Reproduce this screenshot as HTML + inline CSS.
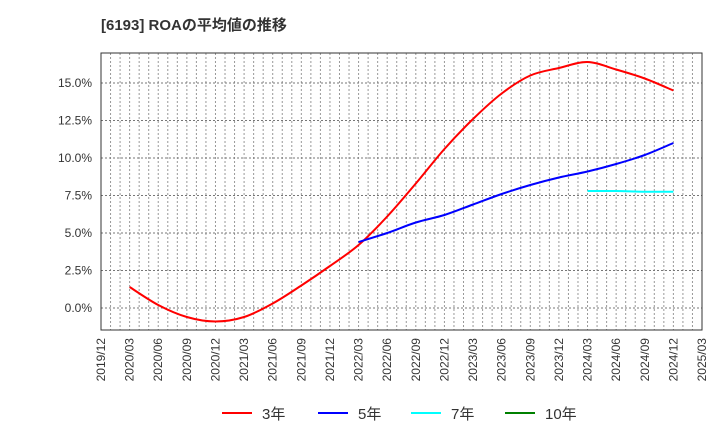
<!DOCTYPE html>
<html><head><meta charset="utf-8"><style>
body{margin:0;background:#fff;font-family:"Liberation Sans","Noto Sans CJK JP",sans-serif;}
svg text{font-family:"Liberation Sans","Noto Sans CJK JP",sans-serif;}
</style></head><body>
<svg id="c" width="720" height="440" xmlns="http://www.w3.org/2000/svg">
<text x="101" y="30" font-size="15" font-weight="bold" fill="#333">[6193]  ROAの平均値の推移</text>
<g id="grid"></g><g id="axes"></g><g id="series"></g>
<rect x="101" y="53" width="601" height="277" fill="none" stroke="#333" stroke-width="1"/>
<g id="legend"></g>
</svg>
<script>
const xLabels=["2019/12","2020/03","2020/06","2020/09","2020/12","2021/03","2021/06","2021/09","2021/12","2022/03","2022/06","2022/09","2022/12","2023/03","2023/06","2023/09","2023/12","2024/03","2024/06","2024/09","2024/12","2025/03"];
const yTicks=[0,2.5,5,7.5,10,12.5,15];
const yTickLabels=["0.0%","2.5%","5.0%","7.5%","10.0%","12.5%","15.0%"];
const dates3=["2020/03","2020/06","2020/09","2020/12","2021/03","2021/06","2021/09","2021/12","2022/03","2022/06","2022/09","2022/12","2023/03","2023/06","2023/09","2023/12","2024/03","2024/06","2024/09","2024/12"];
const roa3=[1.4,0.2,-0.6,-0.9,-0.6,0.3,1.5,2.8,4.2,6.1,8.3,10.6,12.6,14.3,15.5,16.0,16.4,15.9,15.3,14.5];
const dates5=["2022/03","2022/06","2022/09","2022/12","2023/03","2023/06","2023/09","2023/12","2024/03","2024/06","2024/09","2024/12"];
const roa5=[4.4,5.0,5.7,6.2,6.9,7.6,8.2,8.7,9.1,9.6,10.2,11.0];
const dates7=["2024/03","2024/06","2024/09","2024/12"];
const roa7=[7.8,7.8,7.75,7.75];
const NS="http://www.w3.org/2000/svg";
function mi(d){const[y,m]=d.split("/").map(Number);return (y-2019)*12+m-12;}
const X=d=>101+mi(d)*601/63;
const Y=v=>308-v*15;
function el(t,a,p){const e=document.createElementNS(NS,t);for(const k in a)e.setAttribute(k,a[k]);document.getElementById(p).appendChild(e);return e;}
for(let i=1;i<63;i++){const x=101+i*601/63;
 const g=el("line",{x1:x,x2:x,y1:53,y2:330,stroke:"#999","stroke-width":1,"stroke-dasharray":"2,2"},"grid");
 
 }
yTicks.forEach((v,i)=>{
 const g=el("line",{x1:101,x2:702,y1:Y(v),y2:Y(v),stroke:"#777","stroke-width":1,"stroke-dasharray":"2,2"},"grid");
 
 
 const t=el("text",{x:92,y:Y(v)+4,"font-size":12,fill:"#333","text-anchor":"end"},"axes");
 t.textContent=yTickLabels[i];
 
 });
xLabels.forEach(d=>{const x=X(d);
 const t=el("text",{x:0,y:0,"font-size":12,fill:"#333","text-anchor":"end",transform:`translate(${x+4},338) rotate(-90)`},"axes");
 t.textContent=d;
 
 });
function smooth(pts){let d="M"+pts[0][0]+","+pts[0][1];
 for(let i=0;i<pts.length-1;i++){const p0=pts[Math.max(0,i-1)],p1=pts[i],p2=pts[i+1],p3=pts[Math.min(pts.length-1,i+2)];
  const c1=[p1[0]+(p2[0]-p0[0])/6,p1[1]+(p2[1]-p0[1])/6],c2=[p2[0]-(p3[0]-p1[0])/6,p2[1]-(p3[1]-p1[1])/6];
  d+=` C${c1[0]},${c1[1]} ${c2[0]},${c2[1]} ${p2[0]},${p2[1]}`;}
 return d;}
function line(ds,vs,c,n){const p=el("path",{d:smooth(ds.map((d,i)=>[X(d),Y(vs[i])])),fill:"none",stroke:c,"stroke-width":2,"stroke-linejoin":"round"},"series");
 
 }
line(dates3,roa3,"#ff0000","series-3yr");
line(dates5,roa5,"#0000ff","series-5yr");
line(dates7,roa7,"#00ffff","series-7yr");
[["3年","#ff0000",222],["5年","#0000ff",318],["7年","#00ffff",411],["10年","#008000",505]].forEach(([l,c,x])=>{
 const g=el("line",{x1:x,x2:x+30,y1:413,y2:413,stroke:c,"stroke-width":2},"legend");
 
 
 const t=el("text",{x:x+40,y:419,"font-size":15,fill:"#333"},"legend");
 t.textContent=l;
 
 });
</script>
</body></html>
